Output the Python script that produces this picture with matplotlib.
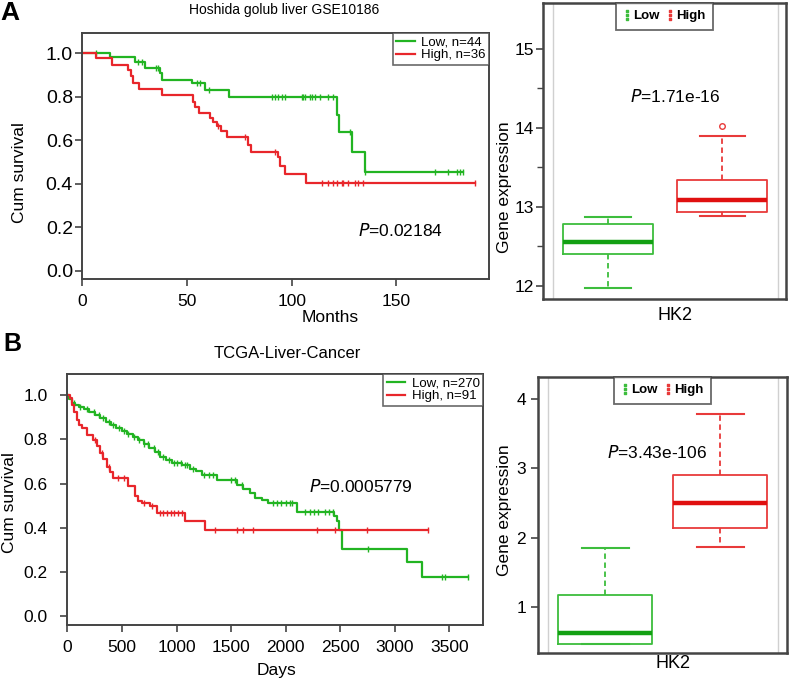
import numpy as np
import matplotlib
matplotlib.use("Agg")
import matplotlib.pyplot as plt
from matplotlib.lines import Line2D

plt.rcParams['font.family'] = ['Liberation Sans', 'DejaVu Sans']

W, H = 793, 684

# ---------------- data ----------------
# Panel A: Hoshida golub liver GSE10186 (months)
a_low_times = [0, 13.3, 25.2, 30.0, 37.0, 38.2, 52.5, 58.6, 70.2, 121.5, 122.6, 128.9, 135.0]
a_low_surv = [1.0, 0.982, 0.962, 0.931, 0.908, 0.878, 0.862, 0.832, 0.798, 0.717, 0.640, 0.548, 0.456]
a_low_end = 181.7
a_low_cens = [6.4, 26.7, 28.4, 35.2, 36.0, 54.6, 56.2, 60.7, 90.4, 92.0, 93.6, 95.2, 96.8,
              104.7, 105.5, 106.3, 108.7, 109.5, 111.1, 113.5, 117.5, 119.9, 127.8, 135.0,
              168.4, 174.8, 178.8, 180.4, 181.7]
a_high_times = [0, 6.4, 14.0, 21.7, 23.3, 24.4, 27.2, 37.9, 52.7, 53.8, 55.7, 61.0, 62.3,
                64.5, 66.2, 69.2, 79.3, 80.4, 93.3, 94.4, 96.8, 106.8]
a_high_surv = [1.0, 0.977, 0.947, 0.924, 0.896, 0.862, 0.835, 0.809, 0.778, 0.752, 0.724, 0.701,
               0.684, 0.666, 0.643, 0.614, 0.578, 0.548, 0.525, 0.483, 0.445, 0.405]
a_high_end = 187.5
a_high_cens = [65.0, 77.7, 92.0, 114.3, 117.5, 119.9, 121.5, 123.9, 124.6, 127.0, 130.2,
               131.8, 134.2, 187.5]
a_labels = ["Low, n=44", "High, n=36"]
a_pval = "0.02184"

# Panel B: TCGA-Liver-Cancer (days)
b_low_times = [0, 15, 40, 70, 110, 150, 200, 250, 300, 350, 400, 450, 500, 550, 600, 650, 700,
               750, 800, 850, 900, 960, 1050, 1120, 1180, 1230, 1370, 1550, 1612, 1673, 1719,
               1780, 1841, 2100, 2440, 2470, 2490, 2513, 3108, 3245]
b_low_surv = [1.0, 0.98, 0.965, 0.955, 0.945, 0.935, 0.925, 0.912, 0.898, 0.880, 0.865, 0.852,
              0.838, 0.826, 0.812, 0.797, 0.780, 0.760, 0.742, 0.722, 0.705, 0.695, 0.685,
              0.668, 0.655, 0.640, 0.616, 0.594, 0.575, 0.557, 0.535, 0.527, 0.512, 0.470,
              0.452, 0.430, 0.390, 0.305, 0.245, 0.180]
b_low_end = 3667
b_low_cens = [60, 120, 180, 240, 290, 330, 380, 420, 470, 520, 560, 610, 660, 700, 740, 790,
              830, 880, 930, 980, 1000, 1040, 1080, 1100, 1150, 1250, 1300, 1330, 1500, 1540,
              1600, 1880, 1920, 1960, 2000, 2040, 2060, 2180, 2220, 2260, 2300, 2360, 2400,
              2430, 2750, 3430, 3460, 3667]
b_high_times = [0, 20, 40, 65, 86, 110, 132, 180, 238, 270, 300, 330, 361, 390, 421, 560, 620,
                650, 681, 757, 819, 1078, 1261]
b_high_surv = [1.0, 0.985, 0.955, 0.925, 0.887, 0.865, 0.85, 0.82, 0.797, 0.77, 0.737, 0.71,
               0.677, 0.65, 0.625, 0.59, 0.542, 0.52, 0.512, 0.497, 0.468, 0.431, 0.390]
b_high_end = 3306
b_high_cens = [250, 320, 380, 460, 520, 700, 780, 850, 880, 910, 950, 980, 1010, 1050, 1352,
               1551, 1612, 1703, 2283, 2451, 2742, 3306]
b_labels = ["Low, n=270", "High, n=91"]
b_pval = "0.0005779"

# Box plots (HK2 expression)
box_groups = ["Low", "High"]
boxA_low = dict(whislo=11.98, q1=12.405, med=12.56, q3=12.785, whishi=12.873, fliers=[])
boxA_high = dict(whislo=12.88, q1=12.94, med=13.09, q3=13.34, whishi=13.90, fliers=[14.03])
boxA_pval = "1.71e-16"
boxB_low = dict(whislo=0.472, q1=0.472, med=0.635, q3=1.18, whishi=1.858, fliers=[])
boxB_high = dict(whislo=1.863, q1=2.145, med=2.496, q3=2.90, whishi=3.777, fliers=[])
boxB_pval = "3.43e-106"

GREEN = "#22b422"
RED = "#e8262b"
BGREEN = "#3dbd3d"
BRED = "#e83a3a"
SPINE = "#444444"

fig = plt.figure(figsize=(W / 100, H / 100), dpi=100)


def rect(l, t, r, b):
    return [l / W, 1 - b / H, (r - l) / W, (b - t) / H]


def ftext(x, y, s, **kw):
    fig.text(x / W, 1 - y / H, s, ha=kw.pop('ha', 'center'), va=kw.pop('va', 'center'), **kw)


def style_spines(ax, lw=1.4):
    for sp in ax.spines.values():
        sp.set_color(SPINE)
        sp.set_linewidth(lw)


def km(ax, times, surv, end, cens, color, label):
    t = list(times) + [end]
    s = list(surv) + [surv[-1]]
    ax.step(t, s, where='post', color=color, lw=1.6, label=label)
    idx = np.searchsorted(np.array(times), np.array(cens), side='right') - 1
    cy = np.array(surv)[idx]
    ax.plot(cens, cy, linestyle='None', marker='|', color=color, markersize=5, mew=1.0)


def km_axes(ax, xlim, ylim, xticks, legend_labels, ylabpad):
    ax.set_xlim(*xlim)
    ax.set_ylim(*ylim)
    ax.set_yticks([0.0, 0.2, 0.4, 0.6, 0.8, 1.0])
    ax.set_yticklabels(["0.0", "0.2", "0.4", "0.6", "0.8", "1.0"])
    ax.set_xticks(xticks)
    style_spines(ax)
    ax.tick_params(direction='out', length=5, width=1.2, color=SPINE, labelsize=12.5)
    ax.tick_params(axis='y', pad=ylabpad)
    ax.tick_params(axis='x', pad=6)
    leg = ax.legend(loc='upper right', bbox_to_anchor=(1.0, 1.0), borderaxespad=0,
                    fontsize=9.5, frameon=True, fancybox=False, handlelength=1.4,
                    handletextpad=0.5, labelspacing=0.05, borderpad=0.25)
    leg.get_frame().set_edgecolor(SPINE)
    leg.get_frame().set_linewidth(1.2)


# ---------------- Panel A KM ----------------
axA = fig.add_axes(rect(82, 33, 489, 279))
km(axA, a_low_times, a_low_surv, a_low_end, a_low_cens, GREEN, a_labels[0])
km(axA, a_high_times, a_high_surv, a_high_end, a_high_cens, RED, a_labels[1])
km_axes(axA, (-0.15, 194.2), (-0.038, 1.094), [0, 50, 100, 150], a_labels, 1.5)
axA.tick_params(axis='y', labelsize=14)
ftext(284, 10, "Hoshida golub liver GSE10186", fontsize=10)
ftext(400, 230, "$\\it{P}$=" + a_pval, fontsize=12.5)
ftext(330, 318, "Months", fontsize=12.5)
ftext(20, 173, "Cum survival", fontsize=12.5, rotation=90)
ftext(10, 13, "A", fontsize=19, fontweight='bold')

# ---------------- Panel B KM ----------------
axB = fig.add_axes(rect(67, 374, 483, 625))
km(axB, b_low_times, b_low_surv, b_low_end, b_low_cens, GREEN, b_labels[0])
km(axB, b_high_times, b_high_surv, b_high_end, b_high_cens, RED, b_labels[1])
km_axes(axB, (-3, 3807), (-0.039, 1.095), [0, 500, 1000, 1500, 2000, 2500, 3000, 3500],
        b_labels, 9)
ftext(287, 353, "TCGA-Liver-Cancer", fontsize=12)
ftext(361, 487, "$\\it{P}$=" + b_pval, fontsize=12.5)
ftext(277, 671, "Days", fontsize=12.5)
ftext(10, 503, "Cum survival", fontsize=12.5, rotation=90)
ftext(12, 344, "B", fontsize=18, fontweight='bold')


# ---------------- Box plots ----------------
def boxpanel(ax, low, high, xlim, ylim, width, gl, gr, yticks, minor, pval, pxy, hk2y, ylab_y, pad):
    stats = []
    for d, lab in ((low, box_groups[0]), (high, box_groups[1])):
        s = dict(d)
        s['label'] = lab
        stats.append(s)
    ax.axvline(gl, color="#d0d0d0", lw=1.0, zorder=0)
    ax.axvline(gr, color="#d0d0d0", lw=1.0, zorder=0)
    bp = ax.bxp(stats, positions=[1, 2], widths=width, capwidths=width * 0.5,
                showfliers=True, patch_artist=False, manage_ticks=False)
    cols = [BGREEN, BRED]
    mcols = ["#13a013", "#e01010"]
    for i in range(2):
        bp['boxes'][i].set(color=cols[i], lw=1.3)
        bp['medians'][i].set(color=mcols[i], lw=3.2, solid_capstyle='butt')
        for w in bp['whiskers'][2 * i:2 * i + 2]:
            w.set(color=cols[i], lw=1.3, linestyle=(0, (3, 2)))
        for c in bp['caps'][2 * i:2 * i + 2]:
            c.set(color=cols[i], lw=1.5)
        bp['fliers'][i].set(marker='o', markersize=4, markerfacecolor='none',
                            markeredgecolor=cols[i], mew=1.0)
    ax.set_xlim(*xlim)
    ax.set_ylim(*ylim)
    ax.set_xticks([])
    ax.set_yticks(yticks)
    ax.set_yticklabels([str(v) for v in yticks])
    if minor:
        ax.set_yticks(minor, minor=True)
        ax.tick_params(axis='y', which='minor', length=4, width=1.0, color=SPINE)
    ax.tick_params(axis='y', which='major', direction='out', length=5, width=1.2,
                   color=SPINE, labelsize=12.5, pad=pad)
    style_spines(ax, 1.8)
    handles = [Line2D([], [], linestyle='None', marker=r'$\vdots$', color=cols[0], markersize=7),
               Line2D([], [], linestyle='None', marker=r'$\vdots$', color=cols[1], markersize=7)]
    leg = ax.legend(handles, box_groups, loc='upper center', bbox_to_anchor=(0.5, 1.0),
                    borderaxespad=0, ncol=2, frameon=True, fancybox=False,
                    handlelength=0.6, handletextpad=0.15, columnspacing=0.5,
                    borderpad=0.55, prop={'weight': 'bold', 'size': 9.5})
    leg.get_frame().set_edgecolor(SPINE)
    leg.get_frame().set_linewidth(1.3)
    ftext(pxy[0], pxy[1], "$\\it{P}$=" + pval, fontsize=12.5)
    ftext(pxy[2], hk2y, "HK2", fontsize=13)
    ftext(504, ylab_y, "Gene expression", fontsize=12.5, rotation=90)


bA = fig.add_axes(rect(543, 3, 786, 299))
boxpanel(bA, boxA_low, boxA_high, (0.43, 2.56), (11.835, 15.58), 0.79, 0.518, 2.49,
         [12, 13, 14, 15], [12.5, 13.5, 14.5], boxA_pval, (675, 97, 675), 316, 187, 1.5)

bB = fig.add_axes(rect(538, 377, 787, 653))
boxpanel(bB, boxB_low, boxB_high, (0.417, 2.58), (0.342, 4.314), 0.82, 0.504, 2.504,
         [1, 2, 3, 4], None, boxB_pval, (657, 452, 673), 664, 510, 3.5)

fig.savefig("out.png", dpi=100)
